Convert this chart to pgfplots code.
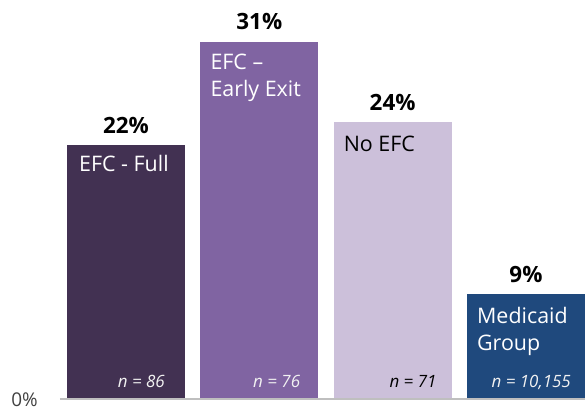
\documentclass[border=0pt]{standalone}
\usepackage{pgfplots}
\pgfplotsset{compat=1.18}
\usepackage{fontspec}
\setmainfont{Open Sans}
\definecolor{cA}{HTML}{423152}
\definecolor{cB}{HTML}{8064A2}
\definecolor{cC}{HTML}{CCC0DA}
\definecolor{cD}{HTML}{1F497D}
\definecolor{base}{HTML}{BFBFBF}
\begin{document}
\begin{tikzpicture}
\begin{axis}[
  scale only axis, width=585bp, height=409bp,
  xmin=-0.945, xmax=3.443, ymin=-0.957, ymax=34.61,
  hide axis, clip=false,
  /pgf/number format/assume math mode=true,
  ybar, bar width=118bp, bar shift=0pt,
  nodes near coords={\pgfmathprintnumber{\pgfplotspointmeta}\%},
  every node near coord/.append style={font=\fontsize{22.5}{26}\selectfont\bfseries, anchor=base, inner sep=0pt, yshift=12bp, black},
]
\addplot[fill=cA, draw=none] coordinates {(0,22)};
\addplot[fill=cB, draw=none] coordinates {(1,31)};
\addplot[fill=cC, draw=none] coordinates {(2,24)};
\addplot[fill=cD, draw=none] coordinates {(3,9)};
\draw[base, line width=2bp] (axis cs:-0.495,-0.08) -- (axis cs:3.443,-0.08);
% category labels
\begin{scope}[every node/.style={font=\fontsize{21.5}{27}\selectfont, anchor=base west, inner sep=0pt}]
\node[white] at (axis cs:-0.4425,22) [xshift=12bp, yshift=-26bp] {EFC - Full};
\node[white] at (axis cs:0.5575,31) [xshift=10bp, yshift=-28bp] {EFC –};
\node[white] at (axis cs:0.5575,31) [xshift=10bp, yshift=-55bp] {Early Exit};
\node[black] at (axis cs:1.5575,24) [xshift=10bp, yshift=-29bp] {No EFC};
\node[white] at (axis cs:2.5575,9) [xshift=10bp, yshift=-29bp] {Medicaid};
\node[white] at (axis cs:2.5575,9) [xshift=10bp, yshift=-56bp] {Group};
\end{scope}
\begin{scope}[every node/.style={font=\fontsize{17}{20}\selectfont\itshape, anchor=base east, inner sep=0pt}]
\node[white!95!black] at (axis cs:0.4425,0) [xshift=-20bp, yshift=10bp] {n = 86};
\node[white!95!black] at (axis cs:1.4425,0) [xshift=-18bp, yshift=10bp] {n = 76};
\node[black] at (axis cs:2.4425,0) [xshift=-15bp, yshift=10bp] {n = 71};
\node[white!95!black] at (axis cs:3.4425,0) [xshift=-14bp, yshift=10bp] {n = 10,155};
\end{scope}
\node[font=\fontsize{19}{22}\selectfont, text=black!75, anchor=base east, inner sep=0pt] at (axis cs:-0.66,-0.957) [yshift=3bp] {0\%};
\end{axis}
\pgfresetboundingbox
\path[use as bounding box] (current axis.south west) rectangle (current axis.north east);
\end{tikzpicture}
\end{document}
